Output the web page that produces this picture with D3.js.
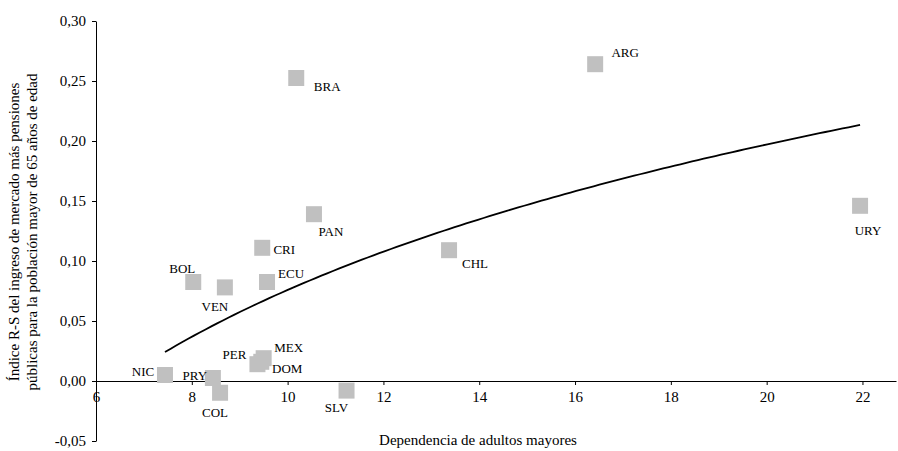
<!DOCTYPE html>
<html>
<head>
<meta charset="utf-8">
<script src="https://cdnjs.cloudflare.com/ajax/libs/d3/7.8.5/d3.min.js"></script>
<style>
  body { margin: 0; background: #fff; }
  #chart text { font-family: "Liberation Serif", "Times New Roman", serif; fill: #000; }
</style>
</head>
<body>
<div id="chart"></div>
<script>
// data
var countries = ['ARG', 'BRA', 'URY', 'PAN', 'CRI', 'CHL', 'BOL', 'VEN', 'ECU', 'MEX', 'PER', 'DOM', 'NIC', 'PRY', 'COL', 'SLV'];
var dependency = [16.42, 10.18, 21.95, 10.55, 9.47, 13.37, 8.03, 8.69, 9.57, 9.50, 9.37, 9.45, 7.44, 8.44, 8.59, 11.23];
var rsIndex = [0.264, 0.2525, 0.146, 0.139, 0.111, 0.109, 0.0825, 0.078, 0.0825, 0.019, 0.014, 0.016, 0.005, 0.0025, -0.0098, -0.008];
var xTicks = [6, 8, 10, 12, 14, 16, 18, 20, 22];
var yTicks = [-0.05, 0, 0.05, 0.10, 0.15, 0.20, 0.25, 0.30];

var xTitle = 'Dependencia de adultos mayores';
var yTitle = ['Índice R-S del ingreso de mercado más pensiones', 'públicas para la población mayor de 65 años de edad'];

// label placement around each square (dx, dy from square centre, anchor)
var labelPos = {
  ARG: [30, -12, 'middle'], BRA: [31, 8, 'middle'], URY: [8, 25, 'middle'],
  PAN: [17, 17, 'middle'], CRI: [22, 2, 'middle'], CHL: [26, 13, 'middle'],
  BOL: [-11, -14, 'middle'], VEN: [-10, 19, 'middle'], ECU: [24, -9, 'middle'],
  MEX: [25, -11, 'middle'], PER: [-23, -10, 'middle'], DOM: [26, 7, 'middle'],
  NIC: [-22, -4, 'middle'], PRY: [-18, -3, 'middle'], COL: [-5, 20, 'middle'],
  SLV: [-10, 17, 'middle']
};

var width = 898,
  height = 451;

var svg = d3.select('#chart')
  .append('svg')
  .attr('width', width)
  .attr('height', height);

var x = d3.scaleLinear().domain([6, 22.7]).range([96, 896]);
var y = d3.scaleLinear().domain([-0.05, 0.30]).range([441, 21]);

var locale = d3.formatLocale({ decimal: ',', thousands: '.', grouping: [3], currency: ['', ''], minus: '-' });
var fmt = locale.format('.2f');

var points = countries.map(function(c, i) {
  return { code: c, x: dependency[i], y: rsIndex[i] };
});

// logarithmic trend fitted to the points
var trend = function() {
  var n = points.length;
  var lx = points.map(function(p) { return Math.log(p.x); });
  var mx = d3.mean(lx), my = d3.mean(points, function(p) { return p.y; });
  var sxy = 0, sxx = 0;
  points.forEach(function(p, i) {
    sxy += (lx[i] - mx) * (p.y - my);
    sxx += (lx[i] - mx) * (lx[i] - mx);
  });
  var b = sxy / sxx, a = my - b * mx;
  var ext = d3.extent(points, function(p) { return p.x; });
  var steps = 120, out = [];
  for (var k = 0; k <= steps; k++) {
    var xv = ext[0] + (ext[1] - ext[0]) * k / steps;
    out.push([xv, a + b * Math.log(xv)]);
  }
  return out;
};

// axes
var yAxis = d3.axisLeft(y)
  .tickValues(yTicks)
  .tickFormat(fmt)
  .tickSize(4)
  .tickSizeOuter(0)
  .tickPadding(6);

var xAxis = d3.axisBottom(x)
  .tickValues(xTicks)
  .tickFormat(d3.format('d'))
  .tickSize(4)
  .tickSizeOuter(0)
  .tickPadding(6);

var gy = svg.append('g')
  .attr('transform', 'translate(' + x(6) + ',0)')
  .call(yAxis);

var gx = svg.append('g')
  .attr('transform', 'translate(0,' + y(0) + ')')
  .call(xAxis);

[gx, gy].forEach(function(g) {
  g.selectAll('path, line').attr('stroke', '#000').attr('stroke-width', 1);
  g.selectAll('text').style('font-size', '15px');
});

// squares
var size = 16;
svg.append('g')
  .selectAll('rect')
  .data(points)
  .enter()
  .append('rect')
  .attr('x', function(d) { return x(d.x) - size / 2; })
  .attr('y', function(d) { return y(d.y) - size / 2; })
  .attr('width', size)
  .attr('height', size)
  .attr('fill', '#c0c0c0');

// trend line
svg.append('path')
  .datum(trend())
  .attr('fill', 'none')
  .attr('stroke', '#000')
  .attr('stroke-width', 1.8)
  .attr('d', d3.line()
    .x(function(d) { return x(d[0]); })
    .y(function(d) { return y(d[1]); }));

// country labels
svg.append('g')
  .selectAll('text')
  .data(points)
  .enter()
  .append('text')
  .attr('x', function(d) { return x(d.x) + labelPos[d.code][0]; })
  .attr('y', function(d) { return y(d.y) + labelPos[d.code][1]; })
  .attr('dy', '0.35em')
  .attr('text-anchor', function(d) { return labelPos[d.code][2]; })
  .style('font-size', '13px')
  .text(function(d) { return d.code; });

// titles
svg.append('text')
  .attr('x', 478)
  .attr('y', 445)
  .attr('text-anchor', 'middle')
  .style('font-size', '15px')
  .text(xTitle);

svg.append('text')
  .attr('transform', 'translate(0,232) rotate(-90)')
  .attr('text-anchor', 'middle')
  .style('font-size', '15px')
  .selectAll('tspan')
  .data(yTitle)
  .enter()
  .append('tspan')
  .attr('x', 0)
  .attr('y', function(d, i) { return 19 + i * 18; })
  .text(function(d) { return d; });
</script>
</body>
</html>
